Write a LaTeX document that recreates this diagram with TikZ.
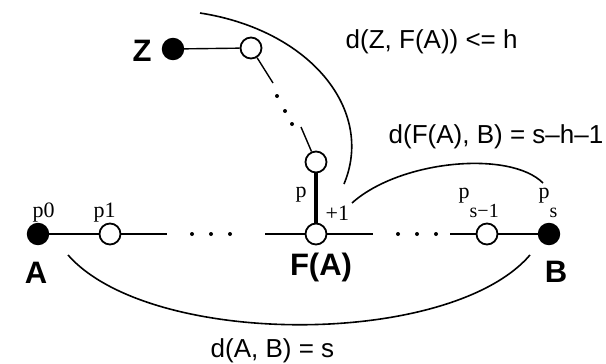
\documentclass[tikz,border=0pt]{standalone}
\usepackage{fontspec}
\setmainfont{Liberation Sans}
\newfontfamily\tms{Liberation Serif}
\begin{document}
\begin{tikzpicture}[x=1pt,y=-1pt,line width=1.4pt,
  filled/.style={circle,fill=black,draw=black,minimum size=21pt,inner sep=0pt},
  hollow/.style={circle,fill=white,draw=black,line width=1.8pt,minimum size=21pt,inner sep=0pt},
  dotp/.style={circle,fill=black,inner sep=0pt,minimum size=4pt},
  bigl/.style={font=\fontsize{31}{31}\selectfont\bfseries,inner sep=0pt,anchor=base},
  dl/.style={font=\fontsize{26}{26}\selectfont,inner sep=0pt,anchor=base west},
  pl/.style={font=\tms\fontsize{22}{22}\selectfont,inner sep=0pt,anchor=base west},
  arcl/.style={line width=1.6pt},
  thickl/.style={line width=3.5pt}]
\useasboundingbox (0,0) rectangle (606,364);
% main nodes
\node[filled] (A) at (38,234) {};
\node[hollow] (p1) at (110,234) {};
\node[hollow] (FA) at (316,234) {};
\node[hollow] (ps1) at (487,234) {};
\node[filled] (B) at (549,234) {};
\node[hollow] (ph) at (316,162) {};
\node[hollow] (z1) at (251,48) {};
\node[filled] (Z) at (173,49) {};
% free ends
\coordinate (l1) at (167,234);
\coordinate (l2) at (265,234);
\coordinate (l3) at (373,234);
\coordinate (l4) at (450,234);
\coordinate (c1) at (273,83);
\coordinate (c2) at (301,127);
% connectors
\draw (A) -- (p1) -- (l1);
\draw (l2) -- (FA) -- (l3);
\draw (l4) -- (ps1) -- (B);
\draw (Z) -- (z1) -- (c1);
\draw (c2) -- (ph);
\draw[thickl] (ph) -- (FA);
% dots
\node[dotp] (d1) at (192,234) {};
\node[dotp] (d2) at (211,234) {};
\node[dotp] (d3) at (230,234) {};
\node[dotp] (d4) at (398,234) {};
\node[dotp] (d5) at (417,234) {};
\node[dotp] (d6) at (436,234) {};
\node[dotp] (d7) at (277,96) {};
\node[dotp] (d8) at (285,111) {};
\node[dotp] (d9) at (292,124) {};
% arcs
\coordinate (a1s) at (200,13);
\coordinate (a1e) at (344,184);
\coordinate (a2s) at (352,203);
\coordinate (a2e) at (543,183);
\coordinate (a3s) at (68,255);
\coordinate (a3e) at (530,255);
\draw[arcl] (a1s) .. controls (310,30) and (375,110) .. (a1e);
\draw[arcl] (a2s) .. controls (400,160) and (510,150) .. (a2e);
\draw[arcl] (a3s) .. controls (150,348) and (450,348) .. (a3e);
% labels
\node[bigl] (lZ) at (142,61) {Z};
\node[bigl] (lA) at (36,283) {A};
\node[bigl] (lFA) at (321,275) {F(A)};
\node[bigl] (lB) at (556,282) {B};
\node[dl] (t1) at (345,48) {d(Z, F(A)) <= h};
\node[dl] (t2) at (388,143) {d(F(A), B) = s–h–1};
\node[dl] (t3) at (210,357) {d(A, B) = s};
\node[pl] (lp0) at (32,217) {p0};
\node[pl] (lp1) at (93,217) {p1};
\node[pl] (lph) at (295,197) {p};
\node[pl] (lh1) at (325,220) {+1};
\node[pl] (lps1) at (458,198) {p\raisebox{-19pt}{\fontsize{20}{20}\selectfont s−1}};
\node[pl] (lps) at (538,198) {p\raisebox{-19pt}{\fontsize{20}{20}\selectfont s}};
\end{tikzpicture}
\end{document}
